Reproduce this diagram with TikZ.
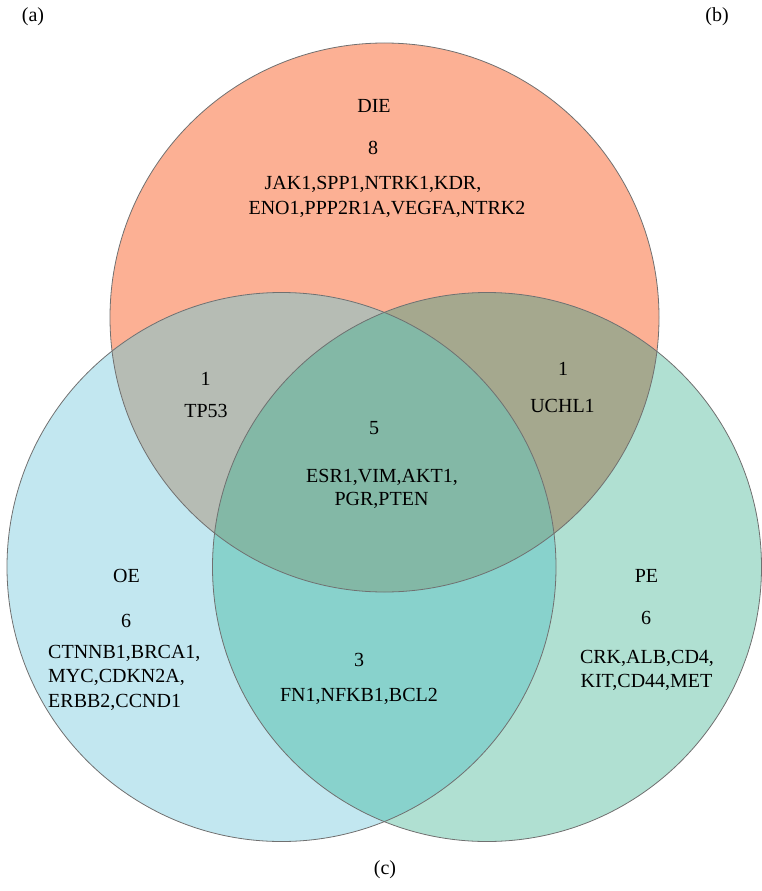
\documentclass[tikz,border=0pt]{standalone}
\usepackage{fontspec}
\setmainfont{Liberation Serif}
\definecolor{dieC}{HTML}{FCB094}
\definecolor{oeC}{HTML}{C2E7F0}
\definecolor{peC}{HTML}{B0E0D2}
\definecolor{doC}{HTML}{B6BCB4}
\definecolor{dpC}{HTML}{A5A88E}
\definecolor{opC}{HTML}{88D2CC}
\definecolor{allC}{HTML}{83B8A6}
\definecolor{edgeC}{HTML}{707070}
\tikzset{
  lbl/.style={inner sep=0pt, anchor=base, font=\fontsize{20}{24}\selectfont},
  lbll/.style={inner sep=0pt, anchor=base west, font=\fontsize{20}{24}\selectfont},
  panel/.style={inner sep=0pt, anchor=center, font=\fontsize{20}{24}\selectfont},
  ring/.style={draw=edgeC, line width=0.8pt}
}
\newcommand{\rad}{274.5pt}
\begin{document}
\begin{tikzpicture}[x=1pt,y=-1pt]
\useasboundingbox (0,0) rectangle (761,891);
\coordinate (cD) at (384.5,317.5);
\coordinate (cO) at (281.5,567);
\coordinate (cP) at (487,567);
% single regions
\fill[dieC] (cD) circle[radius=\rad];
\fill[oeC] (cO) circle[radius=\rad];
\fill[peC] (cP) circle[radius=\rad];
% pairwise
\begin{scope}
  \clip (cD) circle[radius=\rad];
  \fill[doC] (cO) circle[radius=\rad];
  \fill[dpC] (cP) circle[radius=\rad];
\end{scope}
\begin{scope}
  \clip (cO) circle[radius=\rad];
  \fill[opC] (cP) circle[radius=\rad];
\end{scope}
% triple
\begin{scope}
  \clip (cD) circle[radius=\rad];
  \clip (cO) circle[radius=\rad];
  \fill[allC] (cP) circle[radius=\rad];
\end{scope}
% outlines
\draw[ring] (cD) circle[radius=\rad];
\draw[ring] (cO) circle[radius=\rad];
\draw[ring] (cP) circle[radius=\rad];
% panel labels
\node[panel] (pa) at (33,17) {(a)};
\node[panel] (pb) at (717,17) {(b)};
\node[panel] (pc) at (385,870) {(c)};
% DIE
\node[lbl] (die) at (374,112.6) {DIE};
\node[lbl] (dien) at (373,154.6) {8};
\node[lbl] (dieg1) at (373,189.5) {JAK1,SPP1,NTRK1,KDR,};
\node[lbl] (dieg2) at (387,214.5) {ENO1,PPP2R1A,VEGFA,NTRK2};
% DIE & OE
\node[lbl] (don) at (205.5,385) {1};
\node[lbl] (dog) at (206,417) {TP53};
% DIE & PE
\node[lbl] (dpn) at (563,375) {1};
\node[lbl] (dpg) at (562.5,412) {UCHL1};
% all
\node[lbl] (alln) at (374,434) {5};
\node[lbl] (allg1) at (382,482) {ESR1,VIM,AKT1,};
\node[lbl] (allg2) at (381.5,505) {PGR,PTEN};
% OE
\node[lbl] (oe) at (126.5,582) {OE};
\node[lbl] (oen) at (126,627) {6};
\node[lbll] (oeg1) at (48,658) {CTNNB1,BRCA1,};
\node[lbll] (oeg2) at (48,682.5) {MYC,CDKN2A,};
\node[lbll] (oeg3) at (48,707) {ERBB2,CCND1};
% OE & PE
\node[lbl] (opn) at (359,666) {3};
\node[lbl] (opg) at (359,701) {FN1,NFKB1,BCL2};
% PE
\node[lbl] (pe) at (646.5,582) {PE};
\node[lbl] (pen) at (646,624) {6};
\node[lbl] (peg1) at (647,663) {CRK,ALB,CD4,};
\node[lbl] (peg2) at (646.5,687) {KIT,CD44,MET};
\end{tikzpicture}
\end{document}
